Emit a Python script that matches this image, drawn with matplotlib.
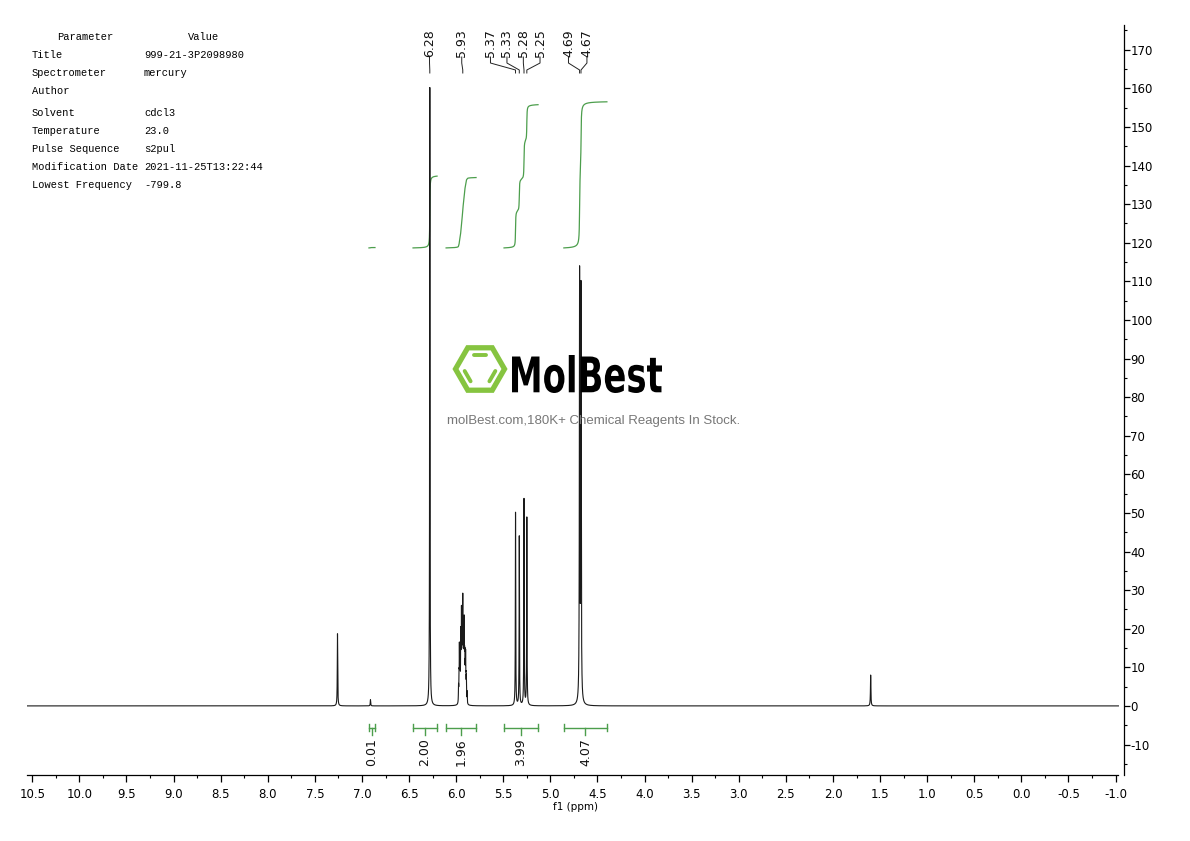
import numpy as np
import matplotlib
matplotlib.use('Agg')
import matplotlib.pyplot as plt
from matplotlib.textpath import TextPath
from matplotlib.font_manager import FontProperties
from matplotlib.patches import PathPatch, RegularPolygon
from matplotlib.transforms import Affine2D, blended_transform_factory
from matplotlib.ticker import MultipleLocator, FormatStrFormatter

plt.rcParams['axes.unicode_minus'] = False

# ---- data ----
# chemical shift (ppm), peak height, line half width (ppm)
peak_ppm = [7.26, 6.91, 6.28,
            5.975, 5.970, 5.966, 5.962, 5.958, 5.952, 5.948, 5.944, 5.940, 5.937, 5.933, 5.930,
            5.926, 5.922, 5.918, 5.915, 5.911, 5.908, 5.904, 5.900, 5.896, 5.892, 5.884,
            5.37, 5.33, 5.28, 5.25,
            4.69, 4.675, 1.60]
peak_height = [18.7, 1.6, 160.4,
               4, 6, 13, 7, 9, 16, 9, 20, 10, 12, 10, 22,
               9, 14, 9, 17, 8, 9, 7, 11, 5, 6, 3,
               50.0, 43.8, 53.4, 48.7,
               110.5, 106.5, 8.0]
peak_width = [0.0025, 0.0025, 0.0022] + [0.0018] * 23 + [0.0022] * 4 + [0.0028, 0.0028, 0.0028]

peak_labels = ['6.28', '5.93', '5.37', '5.33', '5.28', '5.25', '4.69', '4.67']
label_peak_ppm = [6.28, 5.93, 5.37, 5.33, 5.28, 5.25, 4.69, 4.675]

int_start = [6.926, 6.458, 6.107, 5.492, 4.857]
int_end = [6.862, 6.203, 5.789, 5.131, 4.400]
int_values = [0.01, 2.00, 1.96, 3.99, 4.07]

param_names = ['Title', 'Spectrometer', 'Author', 'Solvent', 'Temperature',
               'Pulse Sequence', 'Modification Date', 'Lowest Frequency']
param_values = ['999-21-3P2098980', 'mercury', '', 'cdcl3', '23.0',
                's2pul', '2021-11-25T13:22:44', '-799.8']

# ---- spectrum ----
ppm = np.linspace(10.556, -1.03, 60000)
spec = np.zeros_like(ppm)
for x0, h, w in zip(peak_ppm, peak_height, peak_width):
    spec += h / (1 + ((ppm - x0) / w) ** 2)

W, H = 1190, 841
fig = plt.figure(figsize=(W / 100, H / 100), dpi=100)
ax = fig.add_axes([27 / W, 1 - 775 / H, (1123.5 - 27) / W, 750 / H])
ax.set_xlim(10.556, -1.084)
ax.set_ylim(-17.9, 176.4)

ax.plot(ppm, spec, color='#1a1a1a', lw=0.8, zorder=3)

green = '#4c9e4c'
int_base = 118.65
int_scale = 9.3
for a, b, v in zip(int_start, int_end, int_values):
    m = (ppm <= a) & (ppm >= b)
    cum = np.cumsum(spec[m])
    cum = cum / cum[-1] * v * int_scale
    ax.plot(ppm[m], int_base + cum, color=green, lw=0.9, zorder=2)
    # bracket below the baseline
    ax.plot([a, b], [-5.6, -5.6], color=green, lw=1.0)
    ax.plot([a, a], [-6.4, -4.8], color=green, lw=1.0)
    ax.plot([b, b], [-6.4, -4.8], color=green, lw=1.0)
    c = (a + b) / 2
    ax.plot([c, c], [-5.6, -7.6], color=green, lw=1.0)
    ax.text(c, -8.3, '%.2f' % v, rotation=90, ha='center', va='top',
            fontsize=9, color='#111111')

# peak labels across the top
label_pos = [6.283, 5.941, 5.636, 5.461, 5.287, 5.110, 4.808, 4.612]
trans = blended_transform_factory(ax.transData, ax.transAxes)
for lab, lx, px in zip(peak_labels, label_pos, label_peak_ppm):
    ax.text(lx, 0.9573, lab, rotation=90, ha='center', va='bottom',
            fontsize=9, color='#111111', transform=trans)
    ax.plot([lx, lx, px, px], [0.9573, 0.9493, 0.940, 0.936],
            color='#222222', lw=0.7, transform=trans, clip_on=False)

# axes look
narrow = ['Liberation Sans Narrow', 'DejaVu Sans']
for s in ['top', 'left']:
    ax.spines[s].set_visible(False)
ax.spines['bottom'].set_bounds(10.556, -1.03)
ax.spines['bottom'].set_linewidth(0.9)
ax.spines['right'].set_linewidth(0.9)
ax.yaxis.tick_right()
ax.xaxis.set_major_locator(MultipleLocator(0.5))
ax.xaxis.set_minor_locator(MultipleLocator(0.25))
ax.xaxis.set_major_formatter(FormatStrFormatter('%.1f'))
ax.set_yticks(np.arange(-10, 171, 10))
ax.yaxis.set_minor_locator(MultipleLocator(5))
ax.tick_params(axis='x', which='major', direction='out', length=5, width=0.9, pad=4)
ax.tick_params(axis='x', which='minor', direction='out', length=2.5, width=0.8)
ax.tick_params(axis='y', which='major', direction='out', length=4, width=0.9, pad=1)
ax.tick_params(axis='y', which='minor', direction='out', length=2, width=0.8)
for t in ax.get_xticklabels() + ax.get_yticklabels():
    t.set_fontfamily(narrow)
    t.set_fontsize(8.5)
ax.set_xlabel('f1 (ppm)', fontsize=7.5, family=narrow, labelpad=1)

# parameter table
mono = 'Liberation Mono'
fig.text(57 / W, 1 - 37 / H, 'Parameter', family=mono, fontsize=7.5, va='center')
fig.text(188 / W, 1 - 37 / H, 'Value', family=mono, fontsize=7.5, va='center')
rows_y = [55, 73, 91, 113, 131, 149, 167, 185]
for yy, n, v in zip(rows_y, param_names, param_values):
    fig.text(32 / W, 1 - yy / H, n, family=mono, fontsize=7.5, va='center')
    fig.text(144 / W, 1 - yy / H, v, family=mono, fontsize=7.5, va='center')

# watermark logo (pixel coordinates, origin top-left)
pix = Affine2D().scale(1 / W, -1 / H).translate(0, 1) + fig.transFigure
lg = '#86c440'
cx, cy, r = 480, 369, 24.5
hexa = RegularPolygon((cx, cy), numVertices=6, radius=r, orientation=np.pi / 6,
                      fill=False, ec=lg, lw=3.8, transform=pix, zorder=1)
fig.add_artist(hexa)
ang = np.deg2rad([60, 120, 180, 240, 300, 360])
ri = 16.5
vx = cx + ri * np.cos(ang)
vy = cy - ri * np.sin(ang)
for i0, i1 in [(0, 1), (2, 3), (4, 5)]:
    x0, y0, x1, y1 = vx[i0], vy[i0], vx[i1], vy[i1]
    mx, my = (x0 + x1) / 2, (y0 + y1) / 2
    fig.add_artist(plt.Line2D([mx + (x0 - mx) * 0.72, mx + (x1 - mx) * 0.72],
                              [my + (y0 - my) * 0.72, my + (y1 - my) * 0.72],
                              color=lg, lw=2.8, solid_capstyle='round',
                              transform=pix, zorder=1))

tp = TextPath((0, 0), 'MolBest', size=100,
              prop=FontProperties(family='DejaVu Sans', weight='bold'))
ext = tp.get_extents()
tr = (Affine2D().translate(-ext.x0, -ext.y0)
      .scale(150 / ext.width, -38 / ext.height).translate(512, 393)) + pix
fig.add_artist(PathPatch(tp, transform=tr, color='black', lw=0, zorder=1))
fig.text(594 / W, 1 - 421 / H, 'molBest.com,180K+ Chemical Reagents In Stock.',
         family='Liberation Sans', fontsize=9.5, color='#777777',
         ha='center', va='center', zorder=1)

fig.savefig('out.png', dpi=100)
